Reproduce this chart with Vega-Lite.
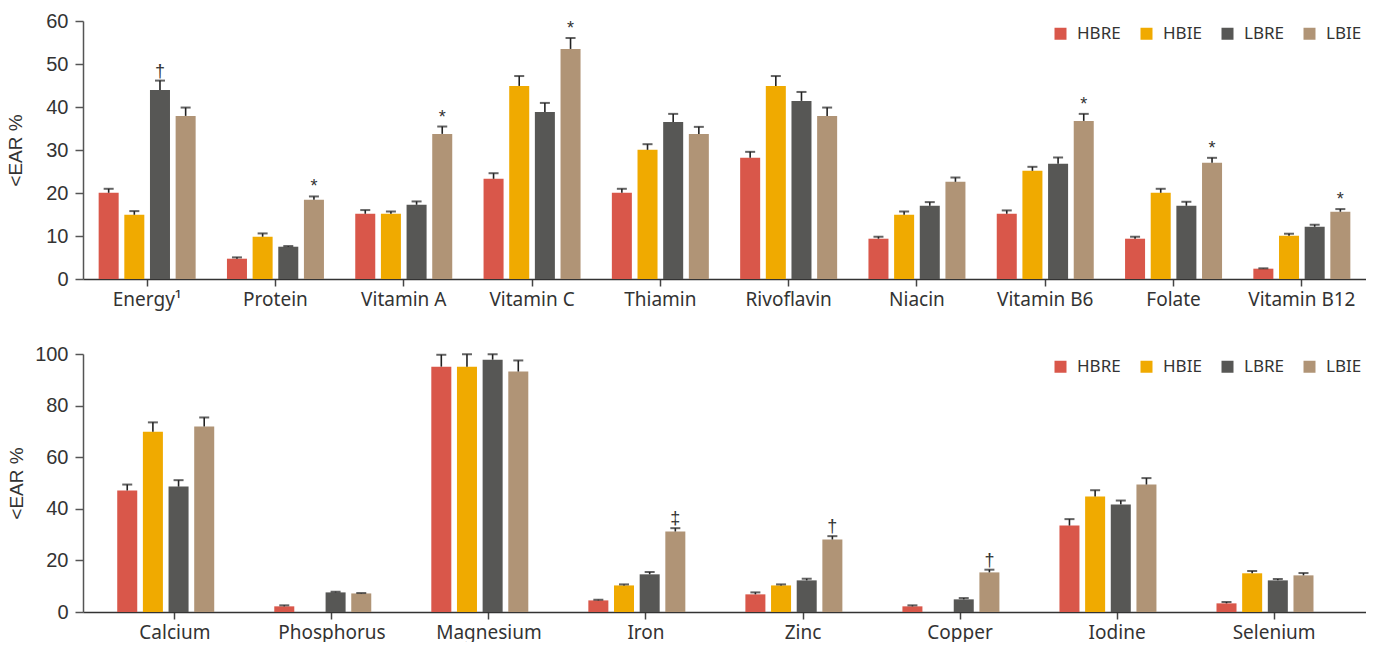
{
  "$schema": "https://vega.github.io/schema/vega-lite/v6.json",
  "padding": {"left": 6, "top": 11, "right": 0, "bottom": 0},
  "background": "white",
  "spacing": 27,
  "config": {
    "view": {"stroke": null},
    "axisY": {"labelFont": "Liberation Sans", "labelFontSize": 20, "labelColor": "#333", "tickSize": 8, "tickColor": "#555", "tickWidth": 1.5, "domainColor": "#555", "domainWidth": 1.5, "labelPadding": 7, "titleFont": "Liberation Sans", "titleFontSize": 19, "titleFontWeight": "normal", "titleColor": "#333", "grid": false},
    "axisX": {"labelFont": "Noto Sans", "labelFontSize": 19, "labelColor": "#333", "tickSize": 7, "tickColor": "#444", "tickWidth": 1.5, "domainColor": "#333", "domainWidth": 1.5, "labelAngle": 0, "labelPadding": 4, "grid": false},
    "legend": {"orient": "top-right", "direction": "horizontal", "symbolType": "square", "symbolSize": 144, "symbolStrokeWidth": 0, "labelFont": "Noto Sans", "labelFontSize": 17, "labelColor": "#333", "columnPadding": 17, "labelOffset": 8, "offset": 4, "padding": 0}
  },
  "datasets": {
    "top": [
      {"n": "Energy¹", "g": "HBRE", "v": 20.05, "e": 20.98, "s": ""},
      {"n": "Energy¹", "g": "HBIE", "v": 14.94, "e": 15.79, "s": ""},
      {"n": "Energy¹", "g": "LBRE", "v": 43.97, "e": 46.14, "s": "†"},
      {"n": "Energy¹", "g": "LBIE", "v": 37.93, "e": 39.87, "s": ""},
      {"n": "Protein", "g": "HBRE", "v": 4.72, "e": 5.03, "s": ""},
      {"n": "Protein", "g": "HBIE", "v": 9.83, "e": 10.6, "s": ""},
      {"n": "Protein", "g": "LBRE", "v": 7.51, "e": 7.66, "s": ""},
      {"n": "Protein", "g": "LBIE", "v": 18.43, "e": 19.2, "s": "*"},
      {"n": "Vitamin A", "g": "HBRE", "v": 15.17, "e": 16.03, "s": ""},
      {"n": "Vitamin A", "g": "HBIE", "v": 15.17, "e": 15.7, "s": ""},
      {"n": "Vitamin A", "g": "LBRE", "v": 17.26, "e": 18.04, "s": ""},
      {"n": "Vitamin A", "g": "LBIE", "v": 33.75, "e": 35.46, "s": "*"},
      {"n": "Vitamin C", "g": "HBRE", "v": 23.3, "e": 24.6, "s": ""},
      {"n": "Vitamin C", "g": "HBIE", "v": 44.9, "e": 47.2, "s": ""},
      {"n": "Vitamin C", "g": "LBRE", "v": 38.86, "e": 40.95, "s": ""},
      {"n": "Vitamin C", "g": "LBIE", "v": 53.5, "e": 56.05, "s": "*"},
      {"n": "Thiamin", "g": "HBRE", "v": 20.05, "e": 20.98, "s": ""},
      {"n": "Thiamin", "g": "HBIE", "v": 30.04, "e": 31.35, "s": ""},
      {"n": "Thiamin", "g": "LBRE", "v": 36.54, "e": 38.4, "s": ""},
      {"n": "Thiamin", "g": "LBIE", "v": 33.75, "e": 35.38, "s": ""},
      {"n": "Rivoflavin", "g": "HBRE", "v": 28.18, "e": 29.57, "s": ""},
      {"n": "Rivoflavin", "g": "HBIE", "v": 44.9, "e": 47.2, "s": ""},
      {"n": "Rivoflavin", "g": "LBRE", "v": 41.42, "e": 43.5, "s": ""},
      {"n": "Rivoflavin", "g": "LBIE", "v": 37.93, "e": 39.87, "s": ""},
      {"n": "Niacin", "g": "HBRE", "v": 9.37, "e": 9.83, "s": ""},
      {"n": "Niacin", "g": "HBIE", "v": 14.94, "e": 15.7, "s": ""},
      {"n": "Niacin", "g": "LBRE", "v": 17.03, "e": 17.88, "s": ""},
      {"n": "Niacin", "g": "LBIE", "v": 22.6, "e": 23.6, "s": ""},
      {"n": "Vitamin B6", "g": "HBRE", "v": 15.17, "e": 15.95, "s": ""},
      {"n": "Vitamin B6", "g": "HBIE", "v": 25.16, "e": 26.09, "s": ""},
      {"n": "Vitamin B6", "g": "LBRE", "v": 26.79, "e": 28.26, "s": ""},
      {"n": "Vitamin B6", "g": "LBIE", "v": 36.77, "e": 38.4, "s": "*"},
      {"n": "Folate", "g": "HBRE", "v": 9.37, "e": 9.83, "s": ""},
      {"n": "Folate", "g": "HBIE", "v": 20.05, "e": 20.98, "s": ""},
      {"n": "Folate", "g": "LBRE", "v": 17.03, "e": 17.96, "s": ""},
      {"n": "Folate", "g": "LBIE", "v": 27.02, "e": 28.18, "s": "*"},
      {"n": "Vitamin B12", "g": "HBRE", "v": 2.4, "e": 2.48, "s": ""},
      {"n": "Vitamin B12", "g": "HBIE", "v": 10.06, "e": 10.53, "s": ""},
      {"n": "Vitamin B12", "g": "LBRE", "v": 12.15, "e": 12.62, "s": ""},
      {"n": "Vitamin B12", "g": "LBIE", "v": 15.64, "e": 16.26, "s": "*"}
    ],
    "bottom": [
      {"n": "Calcium", "g": "HBRE", "v": 47.1, "e": 49.4, "s": ""},
      {"n": "Calcium", "g": "HBIE", "v": 69.9, "e": 73.5, "s": ""},
      {"n": "Calcium", "g": "LBRE", "v": 48.6, "e": 51.1, "s": ""},
      {"n": "Calcium", "g": "LBIE", "v": 71.9, "e": 75.4, "s": ""},
      {"n": "Phosphorus", "g": "HBRE", "v": 2.19, "e": 2.58, "s": ""},
      {"n": "Phosphorus", "g": "HBIE", "v": 0, "e": null, "s": ""},
      {"n": "Phosphorus", "g": "LBRE", "v": 7.6, "e": 7.87, "s": ""},
      {"n": "Phosphorus", "g": "LBIE", "v": 7.2, "e": 7.35, "s": ""},
      {"n": "Magnesium", "g": "HBRE", "v": 95.1, "e": 99.7, "s": ""},
      {"n": "Magnesium", "g": "HBIE", "v": 95.1, "e": 99.9, "s": ""},
      {"n": "Magnesium", "g": "LBRE", "v": 97.8, "e": 99.9, "s": ""},
      {"n": "Magnesium", "g": "LBIE", "v": 93.2, "e": 97.5, "s": ""},
      {"n": "Iron", "g": "HBRE", "v": 4.5, "e": 4.77, "s": ""},
      {"n": "Iron", "g": "HBIE", "v": 10.3, "e": 10.7, "s": ""},
      {"n": "Iron", "g": "LBRE", "v": 14.6, "e": 15.5, "s": ""},
      {"n": "Iron", "g": "LBIE", "v": 31.2, "e": 32.5, "s": "‡"},
      {"n": "Zinc", "g": "HBRE", "v": 6.84, "e": 7.6, "s": ""},
      {"n": "Zinc", "g": "HBIE", "v": 10.3, "e": 10.7, "s": ""},
      {"n": "Zinc", "g": "LBRE", "v": 12.26, "e": 12.9, "s": ""},
      {"n": "Zinc", "g": "LBIE", "v": 28.1, "e": 29.4, "s": "†"},
      {"n": "Copper", "g": "HBRE", "v": 2.19, "e": 2.58, "s": ""},
      {"n": "Copper", "g": "HBIE", "v": 0, "e": null, "s": ""},
      {"n": "Copper", "g": "LBRE", "v": 4.9, "e": 5.4, "s": ""},
      {"n": "Copper", "g": "LBIE", "v": 15.35, "e": 16.4, "s": "†"},
      {"n": "Iodine", "g": "HBRE", "v": 33.5, "e": 36.0, "s": ""},
      {"n": "Iodine", "g": "HBIE", "v": 44.8, "e": 47.2, "s": ""},
      {"n": "Iodine", "g": "LBRE", "v": 41.7, "e": 43.2, "s": ""},
      {"n": "Iodine", "g": "LBIE", "v": 49.4, "e": 51.9, "s": ""},
      {"n": "Selenium", "g": "HBRE", "v": 3.35, "e": 3.87, "s": ""},
      {"n": "Selenium", "g": "HBIE", "v": 15.0, "e": 15.9, "s": ""},
      {"n": "Selenium", "g": "LBRE", "v": 12.26, "e": 12.8, "s": ""},
      {"n": "Selenium", "g": "LBIE", "v": 14.2, "e": 15.1, "s": ""}
    ]
  },
  "resolve": {"scale": {"color": "independent"}, "legend": {"color": "independent"}},
  "vconcat": [
    {
      "width": 1283,
      "height": 258,
      "data": {"name": "top"},
      "encoding": {
        "x": {"field": "n", "type": "nominal", "sort": null, "title": null, "scale": {"paddingInner": 0.2, "paddingOuter": 0.1}},
        "xOffset": {"field": "g", "type": "nominal", "sort": ["HBRE", "HBIE", "LBRE", "LBIE"], "scale": {"domain": ["HBRE", "HBIE", "LBRE", "LBIE"], "paddingInner": 0.22, "paddingOuter": 0.11}}
      },
      "layer": [
        {
          "mark": {"type": "bar"},
          "encoding": {
            "y": {"field": "v", "type": "quantitative", "title": "<EAR %", "scale": {"domain": [0, 60], "nice": false}, "axis": {"values": [0, 10, 20, 30, 40, 50, 60], "titlePadding": 20}},
            "color": {"field": "g", "type": "nominal", "title": null, "sort": ["HBRE", "HBIE", "LBRE", "LBIE"], "scale": {"domain": ["HBRE", "HBIE", "LBRE", "LBIE"], "range": ["#D9574A", "#F0AA00", "#575755", "#B09476"]}}
          }
        },
        {
          "transform": [{"filter": "datum.e != null"}],
          "mark": {"type": "rule", "color": "#222", "strokeWidth": 1.6},
          "encoding": {"y": {"field": "v", "type": "quantitative", "title": "<EAR %"}, "y2": {"field": "e"}}
        },
        {
          "transform": [{"filter": "datum.e != null"}],
          "mark": {"type": "tick", "color": "#222", "thickness": 2, "size": 10},
          "encoding": {"y": {"field": "e", "type": "quantitative", "title": "<EAR %"}}
        },
        {
          "mark": {"type": "text", "baseline": "alphabetic", "dy": -4, "fontSize": 18, "font": "Liberation Sans", "color": "#333"},
          "encoding": {"y": {"field": "e", "type": "quantitative", "title": "<EAR %"}, "text": {"field": "s"}}
        }
      ]
    },
    {
      "width": 1283,
      "height": 258,
      "data": {"name": "bottom"},
      "encoding": {
        "x": {"field": "n", "type": "nominal", "sort": null, "title": null, "scale": {"paddingInner": 0.23, "paddingOuter": 0.2}},
        "xOffset": {"field": "g", "type": "nominal", "sort": ["HBRE", "HBIE", "LBRE", "LBIE"], "scale": {"domain": ["HBRE", "HBIE", "LBRE", "LBIE"], "paddingInner": 0.24, "paddingOuter": 0.12}}
      },
      "layer": [
        {
          "mark": {"type": "bar"},
          "encoding": {
            "y": {"field": "v", "type": "quantitative", "title": "<EAR %", "scale": {"domain": [0, 100], "nice": false}, "axis": {"values": [0, 20, 40, 60, 80, 100], "titlePadding": 8}},
            "color": {"field": "g", "type": "nominal", "title": null, "sort": ["HBRE", "HBIE", "LBRE", "LBIE"], "scale": {"domain": ["HBRE", "HBIE", "LBRE", "LBIE"], "range": ["#D9574A", "#F0AA00", "#575755", "#B09476"]}}
          }
        },
        {
          "transform": [{"filter": "datum.e != null"}],
          "mark": {"type": "rule", "color": "#222", "strokeWidth": 1.6},
          "encoding": {"y": {"field": "v", "type": "quantitative", "title": "<EAR %"}, "y2": {"field": "e"}}
        },
        {
          "transform": [{"filter": "datum.e != null"}],
          "mark": {"type": "tick", "color": "#222", "thickness": 2, "size": 10},
          "encoding": {"y": {"field": "e", "type": "quantitative", "title": "<EAR %"}}
        },
        {
          "mark": {"type": "text", "baseline": "alphabetic", "dy": -4, "fontSize": 18, "font": "Liberation Sans", "color": "#333"},
          "encoding": {"y": {"field": "e", "type": "quantitative", "title": "<EAR %"}, "text": {"field": "s"}}
        }
      ]
    }
  ]
}
